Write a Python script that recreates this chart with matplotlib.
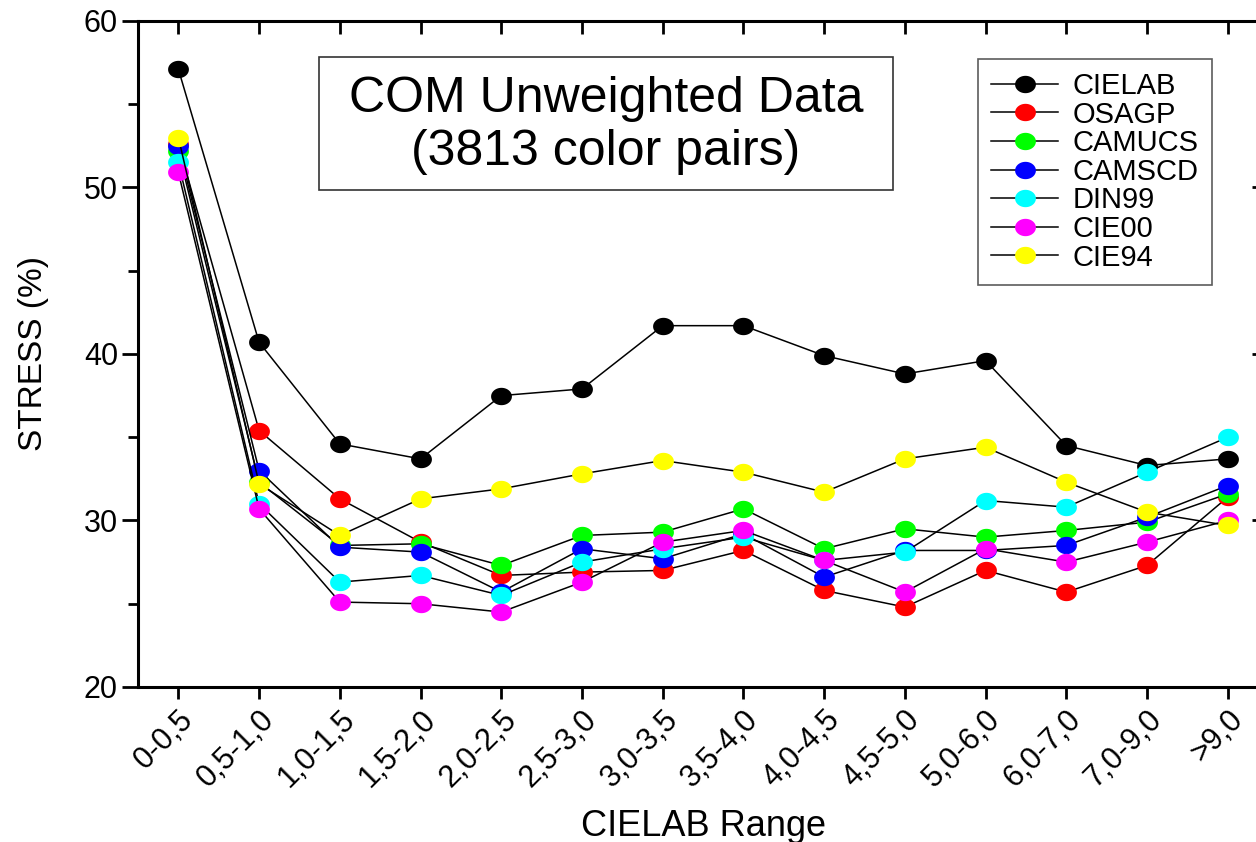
import numpy as np
import matplotlib.pyplot as plt
from matplotlib.path import Path
from matplotlib.patches import Rectangle

plt.rcParams['font.family'] = ['Liberation Sans', 'DejaVu Sans']

ranges = ['0-0,5', '0,5-1,0', '1,0-1,5', '1,5-2,0', '2,0-2,5', '2,5-3,0', '3,0-3,5',
          '3,5-4,0', '4,0-4,5', '4,5-5,0', '5,0-6,0', '6,0-7,0', '7,0-9,0', '>9,0']

cielab = [57.1, 40.7, 34.6, 33.7, 37.5, 37.9, 41.7, 41.7, 39.9, 38.8, 39.6, 34.5, 33.3, 33.7]
osagp = [52.6, 35.4, 31.3, 28.7, 26.7, 26.9, 27.0, 28.2, 25.8, 24.8, 27.0, 25.7, 27.3, 31.4]
camucs = [52.2, 32.3, 28.5, 28.6, 27.3, 29.1, 29.3, 30.7, 28.3, 29.5, 29.0, 29.4, 29.9, 31.6]
camscd = [52.5, 33.0, 28.4, 28.1, 25.7, 28.3, 27.7, 29.2, 26.6, 28.2, 28.2, 28.5, 30.2, 32.1]
din99 = [51.5, 31.0, 26.3, 26.7, 25.5, 27.5, 28.3, 29.0, 27.6, 28.1, 31.2, 30.8, 32.9, 35.0]
cie00 = [50.9, 30.7, 25.1, 25.0, 24.5, 26.3, 28.7, 29.4, 27.6, 25.7, 28.3, 27.5, 28.7, 30.0]
cie94 = [53.0, 32.2, 29.1, 31.3, 31.9, 32.8, 33.6, 32.9, 31.7, 33.7, 34.4, 32.3, 30.5, 29.7]

names = ['CIELAB', 'OSAGP', 'CAMUCS', 'CAMSCD', 'DIN99', 'CIE00', 'CIE94']
colors = ['#000000', '#ff0000', '#00ff00', '#0000ff', '#00ffff', '#ff00ff', '#ffff00']
series = [cielab, osagp, camucs, camscd, din99, cie00, cie94]

# slightly wide ellipse marker
t = np.linspace(0, 2 * np.pi, 60)
ellipse = Path(np.column_stack([1.2 * np.cos(t), np.sin(t)]), closed=True)

fig = plt.figure(figsize=(12.56, 8.42), dpi=100)
ax = fig.add_axes([0.1099, 0.1841, 0.8997, 0.7910])

x = np.arange(len(ranges))
for name, col, vals in zip(names, colors, series):
    ax.plot(x, vals, color='black', lw=1.1, marker=ellipse, markersize=15,
            markerfacecolor=col, markeredgewidth=0, label=name)

ax.set_xlim(-0.5, 13.5)
ax.set_ylim(20, 60)
ax.set_xticks(x)
ax.set_xticklabels(ranges, rotation=45, ha='right', rotation_mode='anchor', fontsize=22)
ax.set_yticks([20, 30, 40, 50, 60])
ax.set_yticks([25, 35, 45, 55], minor=True)
ax.tick_params(axis='y', which='major', direction='out', length=11.5, width=2, labelsize=22, pad=3)
ax.tick_params(axis='y', which='minor', direction='out', length=7, width=2)
ax.tick_params(axis='x', which='major', direction='out', length=8.6, width=2, pad=4)
for s in ax.spines.values():
    s.set_linewidth(2.2)

ax.set_xlabel('CIELAB Range', fontsize=26)
ax.xaxis.set_label_coords(0.5, -0.183)
ax.set_ylabel('STRESS (%)', fontsize=24)
ax.yaxis.set_label_coords(-0.079, 0.5)

# inward ticks on top and right
axr = ax.twinx()
axr.set_ylim(20, 60)
axr.set_yticks([20, 30, 40, 50, 60])
axr.set_yticks([25, 35, 45, 55], minor=True)
axr.tick_params(axis='y', which='major', direction='in', length=11.5, width=2, labelright=False)
axr.tick_params(axis='y', which='minor', direction='in', length=7, width=2)
axt = ax.twiny()
axt.set_xlim(-0.5, 13.5)
axt.set_xticks(x)
axt.tick_params(axis='x', direction='in', length=9.5, width=2, labeltop=False)

ax.add_patch(Rectangle((0.1602, 0.7462), 0.5080, 0.1997, transform=ax.transAxes,
                       facecolor='white', edgecolor='#333333', lw=1.2, zorder=5))
ax.text(0.4142, 0.843, 'COM Unweighted Data\n(3813 color pairs)', transform=ax.transAxes,
        ha='center', va='center', fontsize=36, linespacing=1.2, zorder=6)

leg = ax.legend(loc='upper left', bbox_to_anchor=(0.7434, 0.943), borderaxespad=0,
                fontsize=21, frameon=True, fancybox=False, handlelength=2.3,
                handletextpad=0.5, labelspacing=0.02, borderpad=0.45)
leg.get_frame().set_edgecolor('#333333')
leg.get_frame().set_linewidth(1.2)

fig.savefig('out.png', dpi=100)
